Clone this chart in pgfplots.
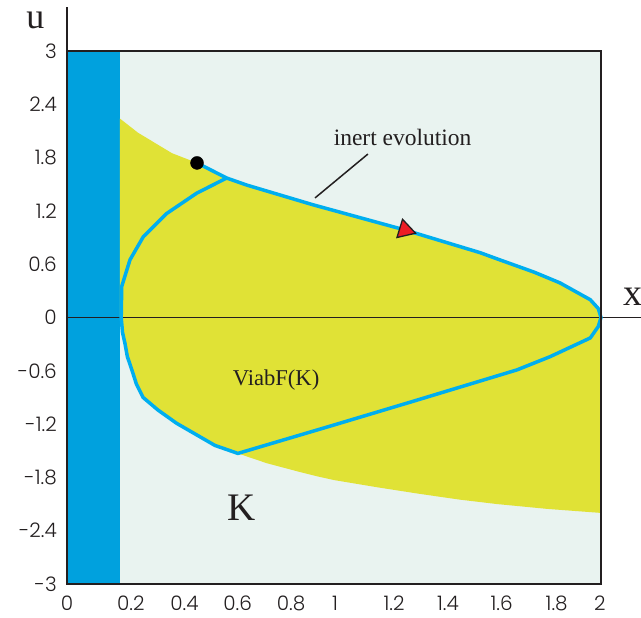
\documentclass[border=0pt]{standalone}
\usepackage{fontspec}
\setmainfont{Liberation Serif}
\newfontfamily\tickfont{Poppins}[UprightFont=* Light]
\usepackage{pgfplots}
\pgfplotsset{compat=1.18}
\definecolor{stripblue}{RGB}{0,161,222}
\definecolor{bgK}{RGB}{233,243,240}
\definecolor{viab}{RGB}{224,226,54}
\definecolor{curveblue}{RGB}{0,174,239}
\definecolor{axdark}{RGB}{35,31,32}
\definecolor{tri}{RGB}{237,28,36}
\begin{document}
\begin{tikzpicture}
\useasboundingbox (0,0) rectangle (641pt,618pt);
\begin{axis}[
  at={(67pt,34pt)}, anchor=south west,
  scale only axis, width=534pt, height=533pt,
  xmin=0, xmax=2, ymin=-3, ymax=3,
  axis background/.style={fill=bgK},
  axis line style={line width=2.5pt, color=axdark},
  axis on top,
  clip=false,
  major tick length=0pt,
  xtick={0,0.239,0.44,0.639,0.839,1.004,1.225,1.427,1.628,1.834,1.996},
  xticklabels={0,0.2,0.4,0.6,0.8,1,1.2,1.4,1.6,1.8,2},
  ytick={-3,-2.4,-1.8,-1.2,-0.6,0,0.6,1.2,1.8,2.4,3},
  yticklabels={-3,-2.4,-1.8,-1.2,-0.6,0,0.6,1.2,1.8,2.4,3},
  ticklabel style={font=\tickfont\fontsize{20}{20}\selectfont, text=axdark},
  xticklabel style={anchor=north, inner sep=0pt, text depth=0pt, yshift=-12pt},
  yticklabel style={anchor=east, inner sep=0pt, xshift=-10pt},
]
% blue strip
\addplot[fill=stripblue, draw=none] coordinates {(0,-3) (0.198,-3) (0.198,3) (0,3)} -- cycle;
% viability region (yellow)
\addplot[fill=viab, draw=none] coordinates {
  (0.198,2.24) (0.266,2.08) (0.393,1.85) (0.487,1.74) (0.598,1.57) (0.674,1.49)
  (0.92,1.27) (1.266,0.985) (1.547,0.73) (1.62,0.65) (1.75,0.51) (1.846,0.39)
  (1.9,0.3) (1.96,0.2) (1.99,0.1) (2,0)
  (2,-2.2) (1.8,-2.155) (1.61,-2.1) (1.47,-2.05) (1.32,-1.985) (1.17,-1.915)
  (1.08,-1.87) (1.0,-1.83) (0.94,-1.79) (0.873,-1.74) (0.748,-1.64) (0.64,-1.53)
  (0.554,-1.44) (0.41,-1.19) (0.34,-1.04) (0.285,-0.9) (0.26,-0.75) (0.243,-0.59)
  (0.226,-0.44) (0.217,-0.29) (0.208,-0.17) (0.203,0)
  (0.198,0)
} -- cycle;
% u = 0 axis line
\draw[axdark, line width=1.8pt] (axis cs:0,0) -- (axis cs:2.15,0);
\draw[axdark, line width=2.5pt] (axis cs:0,2.9) -- (axis cs:0,3.5);
% blue trajectory curve
\addplot[curveblue, line width=3.5pt, line join=round] coordinates {
  (0.487,1.74) (0.598,1.57) (0.674,1.49) (0.92,1.27) (1.266,0.985) (1.547,0.73)
  (1.62,0.65) (1.75,0.51) (1.846,0.39) (1.9,0.3) (1.96,0.2) (1.99,0.1) (2,0)
  (1.99,-0.1) (1.96,-0.23) (1.81,-0.44) (1.685,-0.59) (1.3,-0.94) (1.0,-1.21) (0.64,-1.53)
  (0.554,-1.44) (0.41,-1.19) (0.34,-1.04) (0.285,-0.9) (0.26,-0.75) (0.243,-0.59)
  (0.226,-0.44) (0.217,-0.29) (0.208,-0.17)
  (0.203,0) (0.205,0.35) (0.236,0.65) (0.286,0.91) (0.373,1.17) (0.486,1.40) (0.598,1.57)
};
% markers
\addplot[only marks, mark=*, mark size=6.5pt, black] coordinates {(0.487,1.74)};
\addplot[only marks, mark=triangle*, mark size=11pt,
  mark options={fill=tri, draw=axdark, line width=1.3pt, rotate=13}] coordinates {(1.266,0.985)};
% annotations
\draw[axdark, line width=1.5pt] (axis cs:1.127,1.84) -- (axis cs:0.929,1.346);
\node[anchor=base, font=\fontsize{23.5}{23.5}\selectfont, text=axdark] at (axis cs:1.257,1.931) {inert evolution};
\node[anchor=base, font=\fontsize{22.6}{22.6}\selectfont, text=axdark] at (axis cs:0.783,-0.771) {ViabF(K)};
\node[font=\fontsize{39}{39}\selectfont, text=axdark, inner sep=0pt] at (axis cs:0.654,-2.145) {K};
\node[font=\fontsize{36}{36}\selectfont, text=axdark, inner sep=0pt] at (axis cs:-0.118,3.34) {u};
\node[font=\fontsize{38}{38}\selectfont, text=axdark, inner sep=0pt] at (axis cs:2.118,0.236) {x};
\end{axis}
\end{tikzpicture}
\end{document}
